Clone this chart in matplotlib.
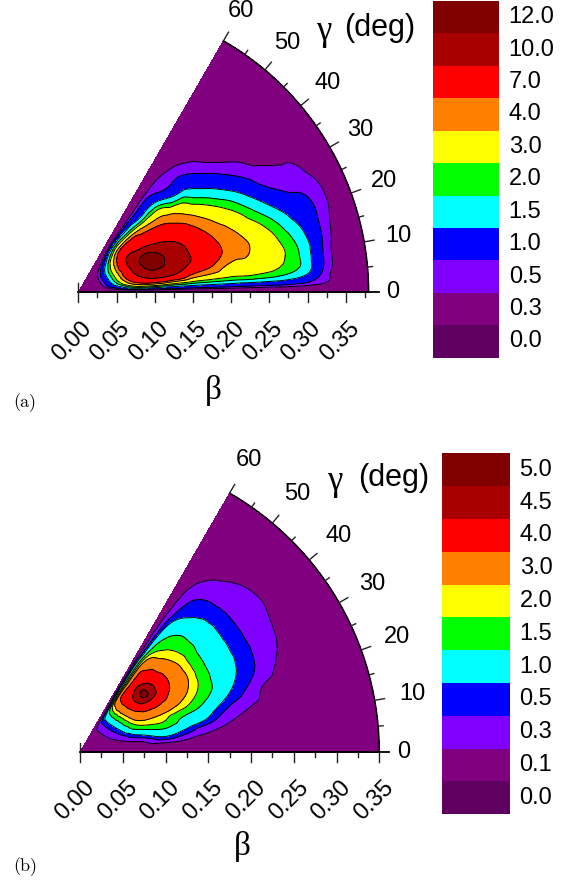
import numpy as np
import matplotlib
matplotlib.use("Agg")
import matplotlib.pyplot as plt
from matplotlib.patches import Rectangle
from matplotlib.tri import Triangulation, UniformTriRefiner, CubicTriInterpolator


# -------------------------------
# DATA
# -------------------------------
gamma_deg = [0, 2, 5, 10, 15, 20, 25, 30, 35, 40, 45, 50, 55, 60]

# panel (a): rows = gamma, columns = beta
beta_a = [0.0, 0.025, 0.05, 0.075, 0.10, 0.125, 0.15, 0.175,
          0.20, 0.225, 0.25, 0.275, 0.30, 0.325, 0.35, 0.38]
dens_a = [
    [0, 0, 0, 0, 0, 0, 0, 0, 0, 0, 0, 0, 0, 0, 0, 0],
    [0, .004, .06, .25, .35, .40, .42, .45, .48, .47, .47, .47, .38, .26, .05, .03],
    [0, .025, .38, 1.5, 2.0, 1.9, 1.8, 1.75, 1.72, 1.8, 1.72, 1.5, 1.1, .42, .10, .05],
    [0, .065, 1.0, 4.0, 6.6, 6.8, 4.6, 3.8, 2.85, 2.8, 2.45, 2.0, 1.3, .50, .15, .08],
    [0, .095, 1.45, 5.8, 9.3, 8.9, 7.1, 5.2, 3.75, 3.15, 2.6, 1.85, 1.15, .55, .22, .12],
    [0, .11, 1.7, 6.7, 10.8, 9.6, 7.3, 5.1, 3.7, 2.95, 2.2, 1.45, .85, .55, .28, .15],
    [0, .12, 1.8, 7.1, 11.2, 9.3, 6.9, 4.6, 3.3, 2.5, 1.6, .95, .55, .44, .27, .15],
    [0, .12, 1.85, 7.3, 10.0, 7.6, 5.7, 3.9, 2.7, 1.85, 1.1, .55, .38, .33, .20, .12],
    [0, .115, 1.75, 6.9, 7.0, 5.6, 4.4, 3.1, 2.0, 1.2, .68, .37, .27, .23, .15, .09],
    [0, .095, 1.45, 5.6, 5.3, 4.3, 3.45, 2.3, 1.27, .75, .40, .26, .18, .15, .11, .07],
    [0, .065, 1.0, 4.0, 4.0, 2.8, 2.3, 1.1, .78, .44, .24, .17, .12, .10, .07, .05],
    [0, .033, .50, 1.9, 1.65, 1.1, 1.0, .50, .45, .28, .15, .10, .07, .06, .04, .03],
    [0, .01, .13, .50, .45, .40, .40, .33, .22, .15, .07, .05, .03, .03, .02, .01],
    [0, 0, 0, 0, 0, 0, 0, 0, 0, 0, 0, 0, 0, 0, 0, 0],
]
levels_a = [0.0, 0.3, 0.5, 1.0, 1.5, 2.0, 3.0, 4.0, 7.0, 10.0, 12.0]

# panel (b)
beta_b = [0.0, 0.025, 0.05, 0.075, 0.10, 0.125, 0.15, 0.175,
          0.20, 0.225, 0.25, 0.275, 0.30, 0.325, 0.35]
dens_b = [
    [0, 0, 0, 0, 0, 0, 0, 0, 0, 0, 0, 0, 0, 0, 0],
    [0, 0, .001, .005, .01, .01, .01, .01, .005, .003, .002, .001, 0, 0, 0],
    [0, .0005, .004, .02, .04, .04, .04, .03, .02, .012, .007, .003, .002, .001, 0],
    [0, .003, .02, .12, .45, .32, .15, .08, .05, .03, .015, .008, .004, .002, .001],
    [0, .006, .09, .45, .92, .75, .55, .26, .12, .06, .03, .015, .008, .004, .002],
    [0, .01, .18, .90, 1.5, 1.1, .92, .55, .33, .11, .05, .03, .016, .008, .004],
    [0, .015, .30, 1.5, 2.0, 1.9, 1.4, .90, .50, .30, .11, .05, .022, .01, .005],
    [0, .02, .40, 2.0, 2.85, 2.6, 1.85, 1.02, .60, .37, .16, .075, .035, .015, .007],
    [0, .024, .48, 2.4, 3.7, 3.1, 2.15, 1.08, .63, .39, .18, .09, .045, .02, .01],
    [0, .028, .55, 2.75, 4.5, 3.4, 2.2, 1.12, .65, .40, .19, .105, .05, .022, .011],
    [0, .03, .60, 2.95, 4.5, 3.35, 2.05, 1.17, .65, .40, .18, .095, .045, .02, .01],
    [0, .03, .60, 2.95, 3.8, 3.05, 1.7, 1.08, .56, .36, .14, .07, .035, .015, .008],
    [0, .021, .42, 2.1, 2.2, 2.0, 1.0, .62, .33, .20, .07, .035, .017, .008, .004],
    [0, 0, 0, 0, 0, 0, 0, 0, 0, 0, 0, 0, 0, 0, 0],
]
levels_b = [0.0, 0.1, 0.3, 0.5, 1.0, 1.5, 2.0, 3.0, 4.0, 4.5, 5.0]

band_colors = ["#600060", "#800080", "#8000FF", "#0000FF", "#00FFFF", "#00FF00",
               "#FFFF00", "#FF8000", "#FF0000", "#A80000", "#800000"]

beta_ticklabels_a = ["0.00", "0.05", "0.10", "0.15", "0.20", "0.25", "0.30", "0.35"]
beta_ticklabels_b = ["0.00", "0.05", "0.10", "0.15", "0.20", "0.25", "0.30", "0.35"]
gamma_ticklabels = ["0", "10", "20", "30", "40", "50", "60"]


# -------------------------------
# LAYOUT (pixels in a 580x882 figure)
# -------------------------------
W, H = 580, 882
SANS = "Liberation Sans"
SERIF = "Liberation Serif"


def sector_axes(fig, origin, scale, xlim, ylim):
    ox, oy = origin
    left = ox + xlim[0] * scale
    top = oy - ylim[1] * scale
    w = (xlim[1] - xlim[0]) * scale
    h = (ylim[1] - ylim[0]) * scale
    ax = fig.add_axes([left / W, (H - top - h) / H, w / W, h / H])
    ax.set_xlim(*xlim)
    ax.set_ylim(*ylim)
    ax.axis("off")
    return ax


def polar_field(beta, gamma, dens):
    # contoured on sqrt(density): the library interpolates a flatter field
    b, g = np.meshgrid(beta, gamma)
    bmax = max(beta)
    tri = Triangulation(g.ravel() / 60.0, b.ravel() / bmax)
    z = np.sqrt(np.asarray(dens, float).ravel())
    interp = CubicTriInterpolator(tri, z, kind="geom")
    tri_f, z_f = UniformTriRefiner(tri).refine_field(z, triinterpolator=interp, subdiv=4)
    r = tri_f.y * bmax
    th = np.deg2rad(tri_f.x * 60.0)
    return Triangulation(r * np.cos(th), r * np.sin(th), tri_f.triangles), z_f


def draw_panel(ax, scale, beta, dens, levels, beta_labels, lab_off, gpad):
    px = 1.0 / scale
    rmax = max(beta)

    T, z = polar_field(beta, gamma_deg, dens)
    lv = np.sqrt(levels[1:])
    ax.tricontourf(T, z, levels=np.concatenate([[-1.0], lv]), colors=band_colors[1:])
    ax.tricontour(T, z, levels=lv, colors="black", linewidths=0.7)

    # outer arc + gamma = 0 axis
    th = np.deg2rad(np.linspace(0, 60, 240))
    ax.plot(rmax * np.cos(th), rmax * np.sin(th), color="black", lw=1.1)
    ax.plot([0, rmax + 10 * px], [0, 0], color="black", lw=1.3)

    # beta ticks (down), the one at 0 crosses the axis
    nb = int(round(rmax / 0.025))
    for i in range(nb + 1):
        b = i * 0.025
        ln = (10 if i % 2 == 0 else 5) * px
        ax.plot([b, b], [0, -ln], color="#222222", lw=1.0)
    ax.plot([0, 0], [0, 9 * px], color="#222222", lw=1.0)

    # gamma ticks on the arc (outward)
    for g in range(5, 61, 5):
        ln = (10 if g % 10 == 0 else 5) * px
        t = np.deg2rad(g)
        ax.plot([rmax * np.cos(t), (rmax + ln) * np.cos(t)],
                [rmax * np.sin(t), (rmax + ln) * np.sin(t)], color="#222222", lw=1.0)

    for lab in beta_labels:
        b = float(lab)
        ax.text(b + lab_off[0] * px, lab_off[1] * px, lab, rotation=45,
                ha="center", va="center", fontsize=17, family=SANS)

    for lab in gamma_ticklabels:
        g = np.deg2rad(float(lab))
        R = rmax + (24 if lab == "0" else gpad) * px
        ax.text(R * np.cos(g), R * np.sin(g), lab, ha="center", va="center",
                fontsize=17, family=SANS)


def draw_colorbar(fig, rect_px, levels, lab_x):
    x0, y0, x1, y1 = rect_px
    cax = fig.add_axes([x0 / W, (H - y1) / H, (x1 - x0) / W, (y1 - y0) / H])
    for i, (c, lv) in enumerate(zip(band_colors, levels)):
        cax.add_patch(Rectangle((0, i), 1, 1, facecolor=c, edgecolor="none",
                                antialiased=False))
        cax.text(lab_x, i + 0.5, f"{lv:.1f}", ha="left", va="center",
                 fontsize=17, family=SANS)
    cax.set_xlim(0, 1)
    cax.set_ylim(0, len(levels))
    cax.axis("off")


def fig_text(fig, x, y, s, **kw):
    fig.text(x / W, 1 - y / H, s, ha="center", va="center", **kw)


fig = plt.figure(figsize=(W / 100, H / 100), dpi=100)

# (a)
ax_a = sector_axes(fig, (78.3, 292.3), 764, (-0.1, 0.46), (-0.14, 0.38))
draw_panel(ax_a, 764, beta_a, dens_a, levels_a, beta_ticklabels_a, (-6, -49), 35)
draw_colorbar(fig, (432.6, 1.0, 499.3, 357.7), levels_a, 1.14)
fig_text(fig, 213, 390, "β", fontsize=24, family=SERIF)
fig_text(fig, 323.5, 31, "γ", fontsize=25, family=SERIF)
fig_text(fig, 380, 28, "(deg)", fontsize=22, family=SANS)
fig_text(fig, 25, 403, "(a)", fontsize=13, family="cmr10")

# (b)
ax_b = sector_axes(fig, (80.0, 752.3), 855, (-0.09, 0.42), (-0.12, 0.38))
draw_panel(ax_b, 855, beta_b, dens_b, levels_b, beta_ticklabels_b, (-5, -48), 38)
draw_colorbar(fig, (441.5, 453.3, 510.0, 814.3), levels_b, 1.14)
fig_text(fig, 242.6, 847, "β", fontsize=24, family=SERIF)
fig_text(fig, 335, 481, "γ", fontsize=25, family=SERIF)
fig_text(fig, 393.5, 478, "(deg)", fontsize=22, family=SANS)
fig_text(fig, 25, 867, "(b)", fontsize=13, family="cmr10")

fig.savefig("out.png", dpi=100)
